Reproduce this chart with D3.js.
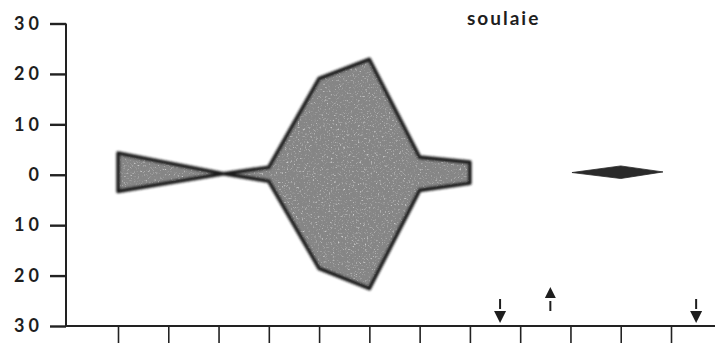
<!DOCTYPE html>
<html>
<head>
<meta charset="utf-8">
<script src="https://cdn.jsdelivr.net/npm/d3@7"></script>
<style>
  body { margin: 0; background: #fff; }
  svg { display: block; }
  text { font-family: "Lato", "DejaVu Sans", sans-serif; fill: #1e1e1e; }
</style>
</head>
<body>
<div id="holder"></div>
<script>
// tick marks along the bottom (12 periods)
const periods = [0, 1, 2, 3, 4, 5, 6, 7, 8, 9, 10, 11];
const yTicks = [30, 20, 10, 0, -10, -20, -30];
const title = "soulaie";

// main band: position (period index), upper and lower extent
const bandX = [0, 2.1, 3, 4, 5, 6, 7];
const bandTop = [4.3, 0.2, 1.5, 19.1, 22.9, 3.5, 2.5];
const bandBottom = [-3.3, 0.2, -1.3, -18.6, -22.6, -3.1, -1.7];

// small diamond on the right
const diamondX = [9.03, 10, 10.84];
const diamondTop = [0.44, 1.75, 0.56];
const diamondBottom = [0.44, -0.75, 0.56];

// arrows above the axis
const arrowX = [7.6, 8.6, 11.5];
const arrowDir = ["down", "up", "down"];

const width = 715;
const height = 353;
const axisX = 66;

const svg = d3.select("#holder")
    .append("svg")
    .attr("width", width)
    .attr("height", height);

const defs = svg.append("defs");
const grain = defs.append("filter").attr("id", "grain")
    .attr("x", "-5%").attr("y", "-5%").attr("width", "110%").attr("height", "110%");
grain.append("feTurbulence")
    .attr("type", "fractalNoise")
    .attr("baseFrequency", 0.55)
    .attr("numOctaves", 2)
    .attr("seed", 4)
    .attr("result", "noise");
grain.append("feColorMatrix")
    .attr("in", "noise")
    .attr("type", "matrix")
    .attr("values", "0 0 0 0 0.25  0 0 0 0 0.25  0 0 0 0 0.25  2.6 0 0 0 -1.05")
    .attr("result", "dark");
grain.append("feColorMatrix")
    .attr("in", "noise")
    .attr("type", "matrix")
    .attr("values", "0 0 0 0 0.78  0 0 0 0 0.78  0 0 0 0 0.78  0 -2.6 0 0 1.1")
    .attr("result", "light");
grain.append("feComposite")
    .attr("in", "dark").attr("in2", "SourceGraphic")
    .attr("operator", "in").attr("result", "darkIn");
grain.append("feComposite")
    .attr("in", "light").attr("in2", "SourceGraphic")
    .attr("operator", "in").attr("result", "lightIn");
const merge = grain.append("feMerge");
merge.append("feMergeNode").attr("in", "SourceGraphic");
merge.append("feMergeNode").attr("in", "lightIn");
merge.append("feMergeNode").attr("in", "darkIn");

defs.append("filter").attr("id", "soft")
    .append("feGaussianBlur").attr("stdDeviation", 1);

const x = d3.scaleLinear().domain([0, 11]).range([118, 671]);
const y = d3.scaleLinear().domain([-30, 30]).range([326, 23.5]);

const area = d3.area()
    .x(d => x(d.x))
    .y0(d => y(d.lo))
    .y1(d => y(d.hi));

const band = bandX.map((v, i) => ({ x: v, hi: bandTop[i], lo: bandBottom[i] }));
const diamond = diamondX.map((v, i) => ({ x: v, hi: diamondTop[i], lo: diamondBottom[i] }));

svg.append("path")
    .datum(band)
    .attr("d", area)
    .attr("fill", "#858585")
    .attr("filter", "url(#grain)");

svg.append("path")
    .datum(band)
    .attr("d", area)
    .attr("fill", "none")
    .attr("stroke", "#1f1f1f")
    .attr("stroke-width", 3.6)
    .attr("stroke-linejoin", "round")
    .attr("filter", "url(#soft)");

svg.append("path")
    .datum(diamond)
    .attr("d", area)
    .attr("fill", "#2a2a2a")
    .attr("stroke", "#2a2a2a")
    .attr("stroke-width", 0.8);

// y axis
const yAxis = d3.axisLeft(y)
    .tickValues(yTicks)
    .tickSize(16)
    .tickPadding(11)
    .tickFormat(d => Math.abs(d));

const gy = svg.append("g")
    .attr("transform", `translate(${axisX},0)`)
    .call(yAxis);
gy.select(".domain").remove();
gy.selectAll(".tick line").attr("stroke", "#222").attr("stroke-width", 2.4);
gy.selectAll(".tick text")
    .attr("font-size", 18)
    .attr("font-weight", 700)
    .attr("letter-spacing", "4px")
    .attr("dx", 4)
    .attr("font-family", "Lato, 'DejaVu Sans', sans-serif");

svg.append("line")
    .attr("x1", axisX).attr("x2", axisX)
    .attr("y1", y(30)).attr("y2", y(-30))
    .attr("stroke", "#222").attr("stroke-width", 2);

// x axis
const xAxis = d3.axisBottom(x)
    .tickValues(periods)
    .tickSize(17)
    .tickFormat("");

const gx = svg.append("g")
    .attr("transform", `translate(0,${y(-30)})`)
    .call(xAxis);
gx.select(".domain").remove();
gx.selectAll(".tick line").attr("stroke", "#222").attr("stroke-width", 1.6);

svg.append("line")
    .attr("x1", axisX - 1).attr("x2", width)
    .attr("y1", y(-30)).attr("y2", y(-30))
    .attr("stroke", "#222").attr("stroke-width", 2.2);

// arrows
const base = y(-30);
arrowX.forEach((v, i) => {
    const cx = x(v);
    const g = svg.append("g").attr("fill", "#1e1e1e").attr("stroke", "#1e1e1e");
    if (arrowDir[i] === "down") {
        g.append("line").attr("x1", cx).attr("x2", cx)
            .attr("y1", base - 27).attr("y2", base - 17).attr("stroke-width", 2);
        g.append("path")
            .attr("d", `M${cx - 6},${base - 15} L${cx + 6},${base - 15} L${cx},${base - 3} Z`)
            .attr("stroke", "none");
    } else {
        g.append("path")
            .attr("d", `M${cx - 5.5},${base - 28} L${cx + 5.5},${base - 28} L${cx},${base - 39} Z`)
            .attr("stroke", "none");
        g.append("line").attr("x1", cx).attr("x2", cx)
            .attr("y1", base - 25).attr("y2", base - 15).attr("stroke-width", 2);
    }
});

svg.append("text")
    .attr("x", 467)
    .attr("y", 25)
    .attr("font-size", 19)
    .attr("font-weight", 700)
    .attr("letter-spacing", "2px")
    .text(title);
</script>
</body>
</html>
